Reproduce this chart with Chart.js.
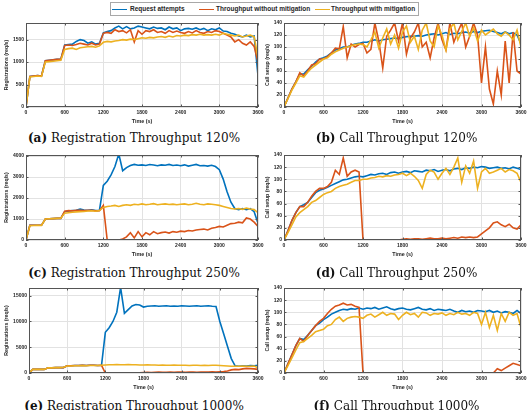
<!DOCTYPE html>
<html><head><meta charset="utf-8">
<script src="https://cdn.jsdelivr.net/npm/chart.js@4.4.0/dist/chart.umd.min.js"></script>
<style>
html,body{margin:0;padding:0;background:#fff;overflow:hidden}
#fig{position:relative;width:529px;height:410px;overflow:hidden;background:#fff}
canvas{position:absolute}
.cap{position:absolute;font-family:"DejaVu Serif",serif;font-size:12px;line-height:14px;color:#111;white-space:nowrap;text-align:center}
#legend{position:absolute;left:110px;top:2px;width:307px;height:12px;border:1px solid #a8a8a8;background:#fff;font:bold 6.5px "Liberation Sans",Arial,sans-serif}
#legend .ln{position:absolute;top:5.5px;height:1.6px;width:15px}
#legend .tx{position:absolute;top:2.3px;line-height:8px;color:#262626}
</style></head><body>
<div id="fig">
  <div id="legend">
    <div class="ln" style="left:1px;background:#0072BD"></div><div class="tx" style="left:19px">Request attempts</div>
    <div class="ln" style="left:88px;background:#D95319"></div><div class="tx" style="left:105px">Throughput without mitigation</div>
    <div class="ln" style="left:204px;background:#EDB120"></div><div class="tx" style="left:220px">Throughput with mitigation</div>
  </div>
  <canvas id="ca" width="272" height="112" style="left:0;top:18px"></canvas>
  <canvas id="cb" width="275" height="112" style="left:264px;top:18px"></canvas>
  <canvas id="cc" width="272" height="112" style="left:0;top:150px"></canvas>
  <canvas id="cd" width="275" height="112" style="left:264px;top:150px"></canvas>
  <canvas id="ce" width="272" height="111" style="left:0;top:283px"></canvas>
  <canvas id="cf" width="275" height="111" style="left:264px;top:283px"></canvas>
  <div class="cap" style="left:0;width:268px;top:131px"><b>(a)</b> Registration Throughput 120%</div>
  <div class="cap" style="left:264px;width:265px;top:131px"><b>(b)</b> Call Throughput 120%</div>
  <div class="cap" style="left:0;width:268px;top:266px"><b>(c)</b> Registration Throughput 250%</div>
  <div class="cap" style="left:264px;width:265px;top:266px"><b>(d)</b> Call Throughput 250%</div>
  <div class="cap" style="left:0;width:268px;top:399px"><b>(e)</b> Registration Throughput 1000%</div>
  <div class="cap" style="left:264px;width:265px;top:399px"><b>(f)</b> Call Throughput 1000%</div>
</div>
<script>
// sample times (s), one every 60 s
const t = [];
for (let s = 0; s <= 3600; s += 60) t.push(s);
const timeTicks = [0, 600, 1200, 1800, 2400, 3000, 3600];
const regTicks120 = [0, 500, 1000, 1500];
const regTicks250 = [0, 1000, 2000, 3000, 4000];
const regTicks1000 = [0, 5000, 10000, 15000];
const callTicks = [0, 20, 40, 60, 80, 100, 120, 140];

// (a) registration 120%
const aBlue = [0,680,690,700,690,1030,1040,1050,1060,1060,
  1380,1390,1400,1460,1500,1480,1420,1450,1400,1420,
  1650,1680,1700,1760,1800,1740,1790,1740,1760,1800,
  1780,1760,1740,1780,1750,1760,1720,1780,1740,1760,
  1700,1740,1750,1730,1760,1720,1750,1700,1740,1720,
  1760,1690,1680,1640,1620,1580,1560,1600,1560,1580,
  700];
const aOrange = [0,680,690,700,690,1030,1040,1050,1060,1060,
  1370,1380,1370,1390,1420,1400,1380,1420,1380,1400,
  1640,1660,1640,1720,1680,1700,1650,1720,1450,1700,
  1620,1700,1680,1720,1660,1680,1640,1700,1660,1690,
  1660,1640,1680,1650,1700,1660,1640,1680,1660,1700,
  1680,1640,1600,1560,1450,1500,1420,1380,1450,1350,
  1000];
const aYellow = [0,670,680,690,680,1000,1010,1020,1030,1040,
  1280,1300,1310,1280,1320,1330,1340,1350,1330,1360,
  1440,1460,1450,1470,1480,1500,1490,1510,1500,1520,
  1540,1530,1550,1540,1560,1570,1550,1580,1560,1590,
  1580,1600,1590,1610,1600,1620,1600,1610,1600,1620,
  1600,1640,1620,1600,1580,1600,1560,1580,1600,1560,
  1100];

// (b) call 120%
const bBlue = [0,15,30,42,55,55,62,68,75,80,
  82,85,90,95,97,100,100,103,105,106,
  108,108,110,112,110,112,113,114,115,114,
  116,117,118,118,119,118,120,121,122,120,
  122,124,121,123,122,124,125,123,126,124,
  126,127,128,126,124,122,125,122,124,120,
  105];
const bOrange = [0,15,30,42,57,52,60,70,72,80,
  80,84,90,98,97,134,82,105,100,104,
  106,90,96,140,110,65,118,128,140,110,
  140,88,115,125,140,100,108,82,115,140,
  112,95,140,108,125,140,100,118,140,120,
  40,100,30,5,60,20,110,40,125,60,
  55];
const bYellow = [0,14,28,40,52,50,58,65,70,75,
  80,82,88,92,95,98,100,102,104,105,
  104,100,112,125,98,115,130,105,120,98,
  125,135,108,118,96,128,140,110,100,135,
  120,95,130,140,112,126,140,118,132,110,
  128,120,125,130,122,118,125,120,112,128,
  100];

// (c) registration 250%
const cBlue = [0,700,700,700,700,1000,1010,1020,1030,1030,
  1350,1380,1400,1420,1470,1430,1420,1440,1400,1420,
  2600,2800,3100,3500,4100,3300,3450,3550,3600,3560,
  3580,3550,3600,3570,3540,3580,3560,3600,3550,3570,
  3540,3580,3520,3560,3600,3540,3550,3520,3560,3500,
  3350,2900,2300,1800,1500,1450,1500,1450,1500,1350,
  800];
const cOrange = [0,700,700,700,700,1000,1010,1020,1030,1030,
  1370,1400,1390,1410,1420,1400,1410,1420,1390,1400,
  1650,0,0,0,0,50,150,350,100,400,
  150,350,250,400,300,350,380,330,400,370,
  420,400,450,430,480,500,520,480,560,600,
  650,620,700,780,800,850,820,1050,1000,850,
  650];
const cYellow = [0,680,690,700,690,1000,1010,1020,1030,1040,
  1280,1300,1320,1340,1350,1360,1380,1390,1370,1400,
  1550,1600,1620,1650,1600,1650,1680,1650,1700,1680,
  1720,1680,1700,1730,1680,1700,1720,1690,1710,1680,
  1700,1720,1680,1700,1750,1700,1680,1720,1700,1680,
  1650,1600,1550,1500,1480,1500,1460,1520,1480,1450,
  1300];

// (d) call 250%
const dBlue = [0,15,32,45,55,58,62,70,78,82,
  84,87,90,93,96,99,100,102,104,105,
  104,106,108,107,109,110,108,111,112,110,
  112,113,111,114,113,112,115,114,116,113,
  115,116,114,117,118,116,119,118,120,119,
  121,120,118,119,120,118,119,117,120,118,
  116];
const dOrange = [0,15,32,45,55,55,62,72,80,85,
  85,88,95,115,108,135,105,112,115,112,
  0,0,0,0,0,0,0,0,0,0,
  1,2,1,2,2,1,2,3,2,2,
  3,2,3,4,3,5,4,5,4,5,
  10,15,20,28,30,25,22,26,20,18,
  25];
const dYellow = [0,12,25,38,45,50,55,62,65,70,
  75,78,80,85,88,90,92,95,98,98,
  100,100,102,103,105,104,106,105,107,108,
  110,106,110,105,98,85,108,115,112,100,
  110,118,108,120,135,95,122,110,130,85,
  112,118,110,112,115,118,112,116,114,110,
  95];

// (e) registration 1000%
const eBlue = [0,700,700,700,700,1000,1000,1050,1050,1050,
  1400,1400,1450,1450,1500,1450,1500,1500,1450,1500,
  7900,8800,10000,11800,16600,11600,12300,13000,13300,13200,
  12800,12950,13000,13050,12950,13000,13050,12950,13000,12950,
  13050,13000,12950,13000,13050,12950,13000,13050,12950,12900,
  10000,7600,5200,2800,1400,1300,1400,1350,1450,1400,
  1500];
const eOrange = [0,700,700,700,700,1000,1000,1050,1050,1050,
  1400,1400,1450,1450,1500,1450,1500,1500,1450,1500,
  0,0,0,0,0,0,0,0,0,50,
  100,150,100,150,200,150,120,180,150,200,
  180,150,200,180,150,200,180,200,220,200,
  250,300,400,600,700,650,800,900,850,800,
  700];
const eYellow = [0,700,700,700,700,1000,1000,1050,1050,1100,
  1350,1350,1400,1400,1450,1400,1450,1450,1450,1500,
  1550,1600,1600,1650,1600,1600,1650,1600,1600,1550,
  1550,1600,1550,1550,1500,1550,1500,1500,1550,1500,
  1500,1500,1450,1500,1500,1450,1500,1450,1500,1500,
  1450,1400,1350,1300,1300,1300,1350,1300,1300,1350,
  1000];

// (f) call 1000%
const fBlue = [0,15,30,45,57,55,62,70,78,82,
  88,92,97,100,103,105,104,106,105,107,
  105,107,106,108,105,107,109,106,104,106,
  107,105,104,106,108,105,104,106,103,105,
  104,103,105,102,100,103,101,102,100,103,
  102,101,103,100,102,99,101,100,98,103,
  98];
const fOrange = [0,15,30,45,57,52,62,70,78,85,
  90,98,105,110,112,115,112,113,110,108,
  0,0,0,0,0,0,0,0,0,0,
  0,0,0,0,0,0,0,0,0,0,
  0,0,0,0,0,0,0,0,0,0,
  0,0,0,0,7,4,8,12,16,14,
  12];
const fYellow = [0,12,25,38,50,52,57,62,68,70,
  72,78,80,88,92,85,90,92,93,92,
  90,95,97,92,96,100,95,98,97,88,
  95,100,96,98,92,100,99,95,98,97,
  99,95,98,96,100,97,98,95,100,98,
  80,100,75,95,70,98,85,100,95,98,
  75];

const blue = '#0072BD', orange = '#D95319', yellow = '#EDB120';
const ink = '#262626', gridColor = '#e2e2e2';
const tickFont = { family: '"Liberation Sans", Arial, sans-serif', size: 5, weight: 'bold' };
const titleFont = { family: '"Liberation Sans", Arial, sans-serif', size: 5.4, weight: 'bold' };

function pts(arr) { return arr.map((v, i) => ({ x: t[i], y: v })); }

// box round the axes with inward ticks, like matlab
const frame = {
  id: 'frame',
  afterDraw(c) {
    const a = c.chartArea, g = c.ctx, xs = c.scales.x, ys = c.scales.y;
    g.save();
    g.strokeStyle = '#555'; g.lineWidth = 1;
    g.strokeRect(a.left + 0.5, a.top + 0.5, a.right - a.left - 1, a.bottom - a.top - 1);
    g.beginPath();
    xs.ticks.forEach(tk => {
      const p = Math.round(xs.getPixelForValue(tk.value)) + 0.5;
      g.moveTo(p, a.bottom); g.lineTo(p, a.bottom - 2.5);
      g.moveTo(p, a.top); g.lineTo(p, a.top + 2.5);
    });
    ys.ticks.forEach(tk => {
      const p = Math.round(ys.getPixelForValue(tk.value)) + 0.5;
      g.moveTo(a.left, p); g.lineTo(a.left + 2.5, p);
      g.moveTo(a.right, p); g.lineTo(a.right - 2.5, p);
    });
    g.stroke();
    g.restore();
  }
};

function plot(id, bl, or, ye, o) {
  new Chart(document.getElementById(id), {
    type: 'line',
    data: { datasets: [
      { data: pts(ye), borderColor: yellow, order: 0 },
      { data: pts(or), borderColor: orange, order: 1 },
      { data: pts(bl), borderColor: blue, order: 2 }
    ] },
    options: {
      responsive: false, animation: false, events: [],
      elements: { line: { borderWidth: 1.6, tension: 0, fill: false }, point: { radius: 0, hitRadius: 0 } },
      layout: { padding: { top: o.padTop, right: o.padRight, left: 0, bottom: 0 } },
      plugins: { legend: { display: false }, tooltip: { enabled: false } },
      scales: {
        x: {
          type: 'linear', min: 0, max: 3600,
          afterBuildTicks: s => { s.ticks = timeTicks.map(v => ({ value: v })); },
          afterFit: s => { s.height = o.xHeight; },
          grid: { color: gridColor, drawTicks: false },
          border: { display: false },
          ticks: { autoSkip: false, maxRotation: 0, padding: 3, font: tickFont, color: ink, callback: v => v },
          title: { display: true, text: 'Time (s)', font: titleFont, color: ink, padding: { top: 0, bottom: o.xHeight - 17.3 } }
        },
        y: {
          min: 0, max: o.yMax,
          afterBuildTicks: s => { s.ticks = o.yTicks.map(v => ({ value: v })); },
          afterFit: s => { s.width = o.yWidth; },
          grid: { color: gridColor, drawTicks: false },
          border: { display: false },
          ticks: { autoSkip: false, padding: 2, font: tickFont, color: ink, callback: v => v },
          title: { display: true, text: o.yTitle, font: { family: titleFont.family, size: 5.2, weight: 'bold' }, color: ink, padding: { top: o.yTitlePad, bottom: 0 } }
        }
      }
    },
    plugins: [frame]
  });
}

const reg = 'Registrations (req/s)', call = 'Call setup (req/s)';
plot('ca', aBlue, aOrange, aYellow, { yMax: 1870, yTicks: regTicks120, yTitle: reg, yWidth: 26, yTitlePad: 3.5, xHeight: 23, padTop: 4, padRight: 14 });
plot('cb', bBlue, bOrange, bYellow, { yMax: 140, yTicks: callTicks, yTitle: call, yWidth: 20, yTitlePad: 0.8, xHeight: 23, padTop: 4, padRight: 18 });
plot('cc', cBlue, cOrange, cYellow, { yMax: 4050, yTicks: regTicks250, yTitle: reg, yWidth: 26, yTitlePad: 3.5, xHeight: 22, padTop: 5, padRight: 14 });
plot('cd', dBlue, dOrange, dYellow, { yMax: 140, yTicks: callTicks, yTitle: call, yWidth: 20, yTitlePad: 0.8, xHeight: 22, padTop: 5, padRight: 18 });
plot('ce', eBlue, eOrange, eYellow, { yMax: 16500, yTicks: regTicks1000, yTitle: reg, yWidth: 29, yTitlePad: 3.5, xHeight: 21, padTop: 5, padRight: 14 });
plot('cf', fBlue, fOrange, fYellow, { yMax: 140, yTicks: callTicks, yTitle: call, yWidth: 20, yTitlePad: 0.8, xHeight: 21, padTop: 5, padRight: 18 });
</script>
</body></html>
